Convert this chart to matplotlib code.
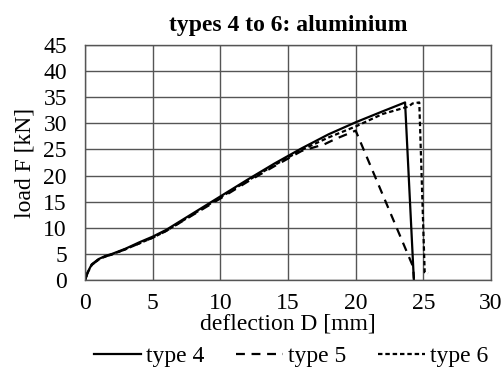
import matplotlib
matplotlib.use("Agg")
import matplotlib.pyplot as plt

x_type4 = [0, 0.2, 0.5, 1.0, 1.5, 2, 3, 4, 5, 6, 8, 10, 12, 14, 16, 18, 20, 22, 23.65, 24.3]
y_type4 = [0, 1.5, 3.0, 4.0, 4.6, 5.0, 6.0, 7.2, 8.3, 9.6, 12.8, 16.0, 19.2, 22.3, 25.2, 27.9, 30.2, 32.3, 34.0, 0]

x_type5 = [0, 0.2, 0.5, 1.0, 1.5, 2, 3, 4, 5, 6, 8, 10, 12, 14, 16, 17.7, 18.5, 20.0, 24.25, 24.3]
y_type5 = [0, 1.4, 2.9, 3.9, 4.5, 4.9, 5.9, 7.0, 8.1, 9.4, 12.5, 15.6, 18.8, 21.8, 24.7, 26.0, 27.0, 28.6, 2.5, 0.3]

x_type6 = [0, 0.2, 0.5, 1.0, 1.5, 2, 3, 4, 5, 6, 8, 10, 12, 14, 16, 18, 20, 22, 23.9, 24.2, 24.7, 25.1, 25.35]
y_type6 = [0, 1.4, 2.9, 3.9, 4.5, 4.9, 5.9, 7.0, 8.1, 9.4, 12.6, 15.8, 19.0, 22.0, 24.9, 27.3, 29.4, 31.8, 33.2, 33.8, 34.0, 1.5, 1.3]

x_ticks = [0, 5, 10, 15, 20, 25, 30]
y_ticks = [0, 5, 10, 15, 20, 25, 30, 35, 40, 45]

plt.rcParams['font.family'] = ['Liberation Serif', 'DejaVu Serif']
FS = 17

fig = plt.figure(figsize=(5.02, 3.79), dpi=100)
ax = fig.add_axes([0.1693, 0.2612, 0.8088, 0.6201])

ax.plot(x_type4, y_type4, color='black', lw=1.6, linestyle='-', label='type 4')
ax.plot(x_type5, y_type5, color='black', lw=1.6, linestyle=(0, (4, 3)), label='type 5')
ax.plot(x_type6, y_type6, color='black', lw=1.6, linestyle=(0, (2, 1.3)), label='type 6')

ax.set_xlim(0, 30)
ax.set_ylim(0, 45)
ax.set_xticks(x_ticks)
ax.set_yticks(y_ticks)
ax.tick_params(axis='x', length=0, labelsize=FS, pad=9)
ax.tick_params(axis='y', length=0, labelsize=FS, pad=13)
ax.grid(True, color='#555555', lw=1.0)
ax.set_axisbelow(True)
for s in ax.spines.values():
    s.set_color('#555555')
    s.set_linewidth(1.0)

ax.set_xlabel('deflection D [mm]', fontsize=FS, labelpad=0)
ax.set_ylabel('load F [kN]', fontsize=FS)
ax.yaxis.set_label_coords(-0.122, 0.5)
ax.set_title('types 4 to 6: aluminium', fontsize=FS, fontweight='bold', pad=10)

fig.legend(loc='lower center', bbox_to_anchor=(0.58, -0.025), ncol=3, frameon=False,
           fontsize=FS, handlelength=2.0, handletextpad=0.2, columnspacing=1.35)

fig.savefig('out.png', dpi=100)
